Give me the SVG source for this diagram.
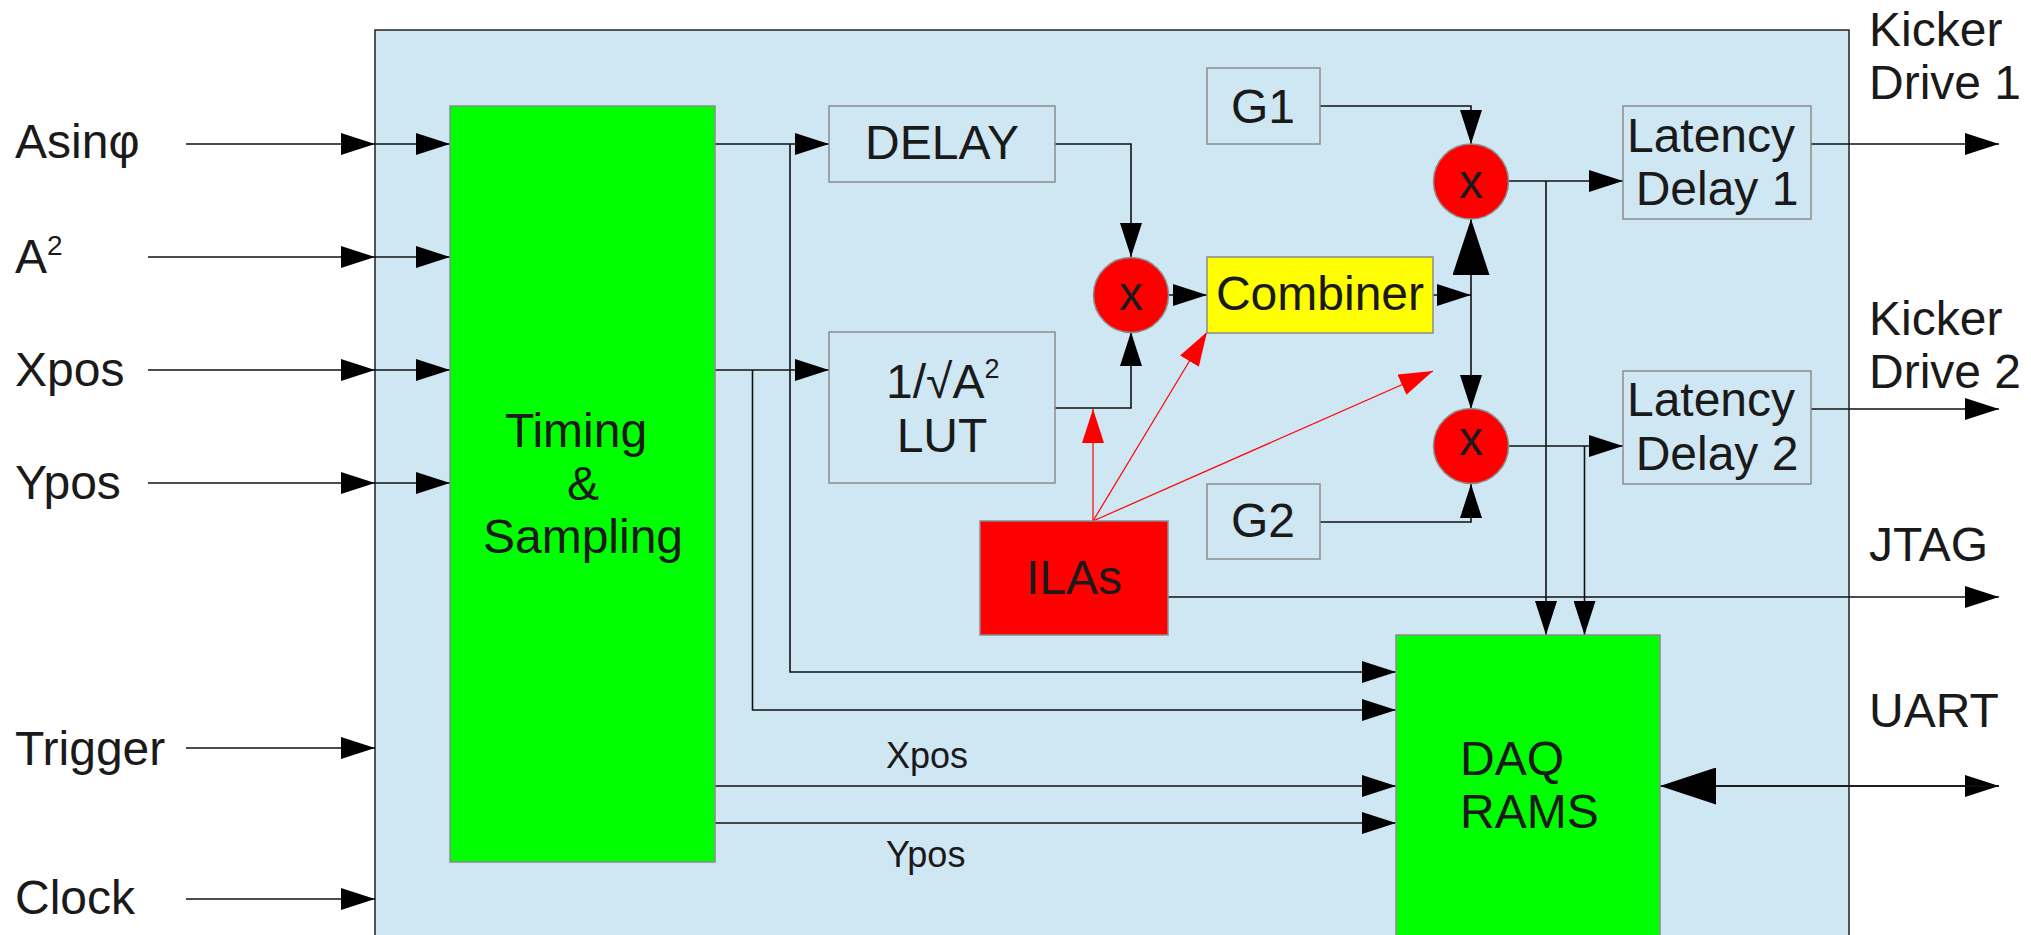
<svg xmlns="http://www.w3.org/2000/svg" width="2031" height="935" viewBox="0 0 2031 935">
<style>
text{font-family:"Liberation Sans",Arial,sans-serif;fill:#1a1a1a;font-size:48px}
.c{text-anchor:middle}
.small{font-size:36px}
.ln{stroke:#111;stroke-width:1.6;fill:none}
.rl{stroke:#ff0000;stroke-width:1.2;fill:none}
.box{fill:#cfe6f3;stroke:#8c8c8c;stroke-width:1.5}
.grn{fill:#00ff00;stroke:#8c8c8c;stroke-width:1.5}
.red{fill:#ff0000;stroke:#8c8c8c;stroke-width:1.5}
.yel{fill:#ffff00;stroke:#8c8c8c;stroke-width:1.5}
</style>
<defs>
<marker id="ah" markerUnits="userSpaceOnUse" markerWidth="34" markerHeight="22" refX="34" refY="11" orient="auto"><path d="M0,0 L34,11 L0,22 z" fill="#000"/></marker>
<marker id="ahr" markerUnits="userSpaceOnUse" markerWidth="34" markerHeight="22" refX="34" refY="11" orient="auto"><path d="M0,0 L34,11 L0,22 z" fill="#ff0000"/></marker>
<marker id="big" markerUnits="userSpaceOnUse" markerWidth="56" markerHeight="37" refX="56" refY="18.5" orient="auto"><path d="M0,0 L56,18.5 L0,37 z" fill="#000"/></marker>
</defs>
<rect width="2031" height="935" fill="#fff"/>
<g id="fpga"><rect x="375" y="30" width="1474" height="920" fill="#cfe6f3" stroke="#222" stroke-width="1.5"/></g>

<g id="connectors">
<path class="ln" d="M186,144 H375" marker-end="url(#ah)"/>
<path class="ln" d="M375,144 H450" marker-end="url(#ah)"/>
<path class="ln" d="M148,257 H375" marker-end="url(#ah)"/>
<path class="ln" d="M375,257 H450" marker-end="url(#ah)"/>
<path class="ln" d="M148,370 H375" marker-end="url(#ah)"/>
<path class="ln" d="M375,370 H450" marker-end="url(#ah)"/>
<path class="ln" d="M148,483 H375" marker-end="url(#ah)"/>
<path class="ln" d="M375,483 H450" marker-end="url(#ah)"/>
<path class="ln" d="M186,748 H375" marker-end="url(#ah)"/>
<path class="ln" d="M186,899 H375" marker-end="url(#ah)"/>
<path class="ln" d="M715,144 H829" marker-end="url(#ah)"/>
<path class="ln" d="M790,144 V672 H1396" marker-end="url(#ah)"/>
<path class="ln" d="M715,370 H829" marker-end="url(#ah)"/>
<path class="ln" d="M752.5,370 V710 H1396" marker-end="url(#ah)"/>
<path class="ln" d="M715,786 H1396" marker-end="url(#ah)"/>
<path class="ln" d="M715,823 H1396" marker-end="url(#ah)"/>
<path class="ln" d="M1055,144 H1131 V257" marker-end="url(#ah)"/>
<path class="ln" d="M1055,408 H1131 V332" marker-end="url(#ah)"/>
<path class="ln" d="M1168,295 H1207" marker-end="url(#ah)"/>
<path class="ln" d="M1320,106 H1471 V144" marker-end="url(#ah)"/>
<path class="ln" d="M1320,522 H1471 V484" marker-end="url(#ah)"/>
<path class="ln" d="M1433,295 H1471" marker-end="url(#ah)"/>
<path class="ln" d="M1471,295 V219" marker-end="url(#big)"/>
<path class="ln" d="M1471,295 V409" marker-end="url(#ah)"/>
<path class="ln" d="M1508,181 H1623" marker-end="url(#ah)"/>
<path class="ln" d="M1546,181 V635" marker-end="url(#ah)"/>
<path class="ln" d="M1508,446 H1623" marker-end="url(#ah)"/>
<path class="ln" d="M1584.5,446 V635" marker-end="url(#ah)"/>
<path class="ln" d="M1811,144 H1999" marker-end="url(#ah)"/>
<path class="ln" d="M1811,409 H1999" marker-end="url(#ah)"/>
<path class="ln" d="M1168,597 H1999" marker-end="url(#ah)"/>
<path class="ln" d="M1716,786 H1999" marker-end="url(#ah)"/>
<path class="ln" d="M1999,786 H1660" marker-end="url(#big)"/>
<path class="rl" d="M1093,521 V409" marker-end="url(#ahr)"/>
<path class="rl" d="M1093,521 L1207,332" marker-end="url(#ahr)"/>
<path class="rl" d="M1093,521 L1433,371" marker-end="url(#ahr)"/>
</g>

<g id="timing"><rect class="grn" x="450" y="106" width="265" height="756"/>
<text class="c" x="576" y="447">Timing</text><text class="c" x="583" y="500">&amp;</text><text class="c" x="583" y="553">Sampling</text></g>
<g id="delay"><rect class="box" x="829" y="106" width="226" height="76"/><text class="c" x="942" y="159">DELAY</text></g>
<g id="lut"><rect class="box" x="829" y="332" width="226" height="151"/>
<text x="886" y="398">1/√A<tspan font-size="27" dy="-20">2</tspan></text><text class="c" x="942" y="452">LUT</text></g>
<g id="mult1"><circle class="red" cx="1131" cy="295" r="37.5"/><text class="c" x="1131" y="310">x</text></g>
<g id="combiner"><rect class="yel" x="1207" y="257" width="226" height="76"/><text class="c" x="1320" y="310">Combiner</text></g>
<g id="g1"><rect class="box" x="1207" y="68" width="113" height="76"/><text class="c" x="1263" y="123">G1</text></g>
<g id="g2"><rect class="box" x="1207" y="484" width="113" height="75"/><text class="c" x="1263" y="537">G2</text></g>
<g id="mult2"><circle class="red" cx="1471" cy="181.5" r="37.5"/><text class="c" x="1471" y="198">x</text></g>
<g id="mult3"><circle class="red" cx="1471" cy="446" r="37.5"/><text class="c" x="1471" y="455">x</text></g>
<g id="ld1"><rect class="box" x="1623" y="106" width="188" height="113"/><text class="c" x="1711" y="152">Latency</text><text class="c" x="1717" y="205">Delay 1</text></g>
<g id="ld2"><rect class="box" x="1623" y="371" width="188" height="113"/><text class="c" x="1711" y="416">Latency</text><text class="c" x="1717" y="470">Delay 2</text></g>
<g id="ilas"><rect class="red" x="980" y="521" width="188" height="114"/><text class="c" x="1074" y="594">ILAs</text></g>
<g id="daq"><rect class="grn" x="1396" y="635" width="264" height="320"/><text x="1460" y="775">DAQ</text><text x="1460" y="828">RAMS</text></g>

<g id="labels">
<text x="15" y="158">Asinφ</text>
<text x="15" y="273">A<tspan font-size="28" dy="-18">2</tspan></text>
<text x="15" y="386">Xpos</text>
<text x="15" y="499">Ypos</text>
<text x="15" y="765">Trigger</text>
<text x="15" y="914">Clock</text>
<text class="small" x="886" y="768">Xpos</text>
<text class="small" x="886" y="867">Ypos</text>
<text x="1869" y="46">Kicker</text>
<text x="1869" y="99">Drive 1</text>
<text x="1869" y="335">Kicker</text>
<text x="1869" y="388">Drive 2</text>
<text x="1869" y="561">JTAG</text>
<text x="1869" y="727">UART</text>
</g>
</svg>
